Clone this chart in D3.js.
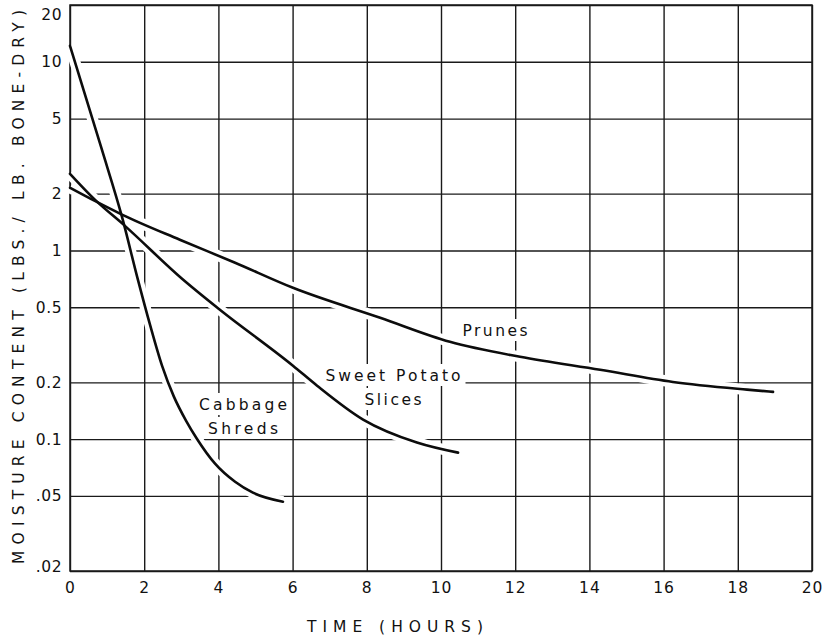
<!DOCTYPE html>
<html>
<head>
<meta charset="utf-8">
<script src="https://cdn.jsdelivr.net/npm/d3@7"></script>
<style>
  html, body { margin: 0; padding: 0; background: #fff; }
  svg { display: block; }
  text { font-family: "DejaVu Sans", "Liberation Sans", sans-serif; fill: #111; }
</style>
</head>
<body>
<svg id="chart" width="833" height="637"></svg>
<script>
// Drying curves: moisture content vs. time
const hourTicks = [0, 2, 4, 6, 8, 10, 12, 14, 16, 18, 20];
const moistureTicks = [20, 10, 5, 2, 1, 0.5, 0.2, 0.1, 0.05, 0.02];
const moistureTickLabels = ["20", "10", "5", "2", "1", "0.5", "0.2", "0.1", ".05", ".02"];

const cabbageHours    = [0, 0.86, 1.40, 1.83, 2.156, 2.48, 2.80, 3.13, 3.42, 3.91, 4.45, 4.93, 5.74];
const cabbageMoisture = [12.15, 3.42, 1.51, 0.70, 0.404, 0.245, 0.168, 0.125, 0.1005, 0.0741, 0.0594, 0.052, 0.0466];

const potatoHours    = [0, 0.67, 1.48, 3.02, 4.04, 6.01, 6.66, 7.90, 9.35, 10.46];
const potatoMoisture = [2.55, 1.86, 1.35, 0.708, 0.485, 0.245, 0.192, 0.127, 0.096, 0.0848];

const pruneHours    = [0, 0.67, 1.40, 2.96, 4.45, 6.01, 8.36, 10.24, 12.13, 14.29, 16.25, 18.25, 18.95];
const pruneMoisture = [2.15, 1.83, 1.55, 1.14, 0.861, 0.634, 0.440, 0.328, 0.273, 0.233, 0.201, 0.183, 0.178];

const seriesNames = ["Cabbage Shreds", "Sweet Potato Slices", "Prunes"];

const svg = d3.select("#chart");
const plotLeft = 70, plotRight = 812, plotTop = 5, plotBottom = 571;
const plotW = plotRight - plotLeft, plotH = plotBottom - plotTop;

const x = d3.scaleLinear().domain([0, 20]).range([plotLeft, plotRight]);
const y = d3.scaleLog().domain([0.02, 20]).range([plotBottom, plotTop]);

const ink = "#1a1a1a";

// Grid via axes
const gx = svg.append("g")
  .attr("transform", `translate(0,${plotBottom})`)
  .call(d3.axisBottom(x).tickValues(hourTicks).tickSize(-plotH).tickPadding(11)
        .tickFormat(d3.format("d")));
gx.select(".domain").remove();
gx.selectAll(".tick line").attr("stroke", ink).attr("stroke-width", 1.4);
gx.selectAll(".tick text").attr("font-size", 15.5).attr("letter-spacing", 1)
  .attr("font-family", "DejaVu Sans").attr("fill", "#111");

const gy = svg.append("g")
  .attr("transform", `translate(${plotLeft},0)`)
  .call(d3.axisLeft(y).tickValues(moistureTicks).tickSize(-plotW).tickPadding(8)
        .tickFormat((d, i) => moistureTickLabels[i]));
gy.select(".domain").remove();
gy.selectAll(".tick line").attr("stroke", ink).attr("stroke-width", 1.4);
gy.selectAll(".tick text").attr("font-size", 15.5).attr("letter-spacing", 0.5)
  .attr("font-family", "DejaVu Sans").attr("fill", "#111")
  .attr("y", d => {
    const py = y(d);
    return Math.min(Math.max(py, plotTop + 10), plotBottom - 4) - py;
  });

// Frame
svg.append("rect")
  .attr("x", plotLeft).attr("y", plotTop).attr("width", plotW).attr("height", plotH)
  .attr("fill", "none").attr("stroke", ink).attr("stroke-width", 1.5);

// Curve labels, each with a white clearing behind it
const labelSpecs = [
  { lines: ["Prunes"], cx: 495, base: 336, lens: [65] },
  { lines: ["Sweet Potato", "Slices"], cx: 393, base: 381, lens: [135, 57] },
  { lines: ["Cabbage", "Shreds"], cx: 243, base: 410, lens: [88, 70] }
];
const clearLayer = svg.append("g");
const curveLayer = svg.append("g");
const textLayer = svg.append("g");

labelSpecs.forEach(spec => {
  spec.lines.forEach((ln, i) => {
    textLayer.append("text")
      .attr("x", spec.cx).attr("y", spec.base + i * 24)
      .attr("text-anchor", "middle")
      .attr("font-size", 15.5)
      .attr("textLength", spec.lens[i]).attr("lengthAdjust", "spacing")
      .text(ln);
  });
});
textLayer.selectAll("text").each(function () {
  const b = this.getBBox();
  clearLayer.append("rect")
    .attr("x", b.x - 5).attr("y", b.y - 3)
    .attr("width", b.width + 10).attr("height", b.height + 4)
    .attr("fill", "#fff");
});

// Curves
const line = d3.line()
  .x(d => x(d[0])).y(d => y(d[1]))
  .curve(d3.curveMonotoneX);

const series = [
  d3.zip(cabbageHours, cabbageMoisture),
  d3.zip(potatoHours, potatoMoisture),
  d3.zip(pruneHours, pruneMoisture)
];

// White clearance where curves cut the grid
curveLayer.append("g").selectAll("path").data(series).join("path")
  .attr("d", line).attr("fill", "none")
  .attr("stroke", "#fff").attr("stroke-width", 11).attr("stroke-linecap", "butt");

curveLayer.append("g").selectAll("path").data(series).join("path")
  .attr("d", line).attr("fill", "none")
  .attr("class", (d, i) => seriesNames[i].replace(/ /g, "-"))
  .attr("stroke", "#0c0c0c").attr("stroke-width", 2.6)
  .attr("stroke-linecap", "round").attr("stroke-linejoin", "round");

// Axis titles
svg.append("text")
  .attr("x", 395).attr("y", 632)
  .attr("text-anchor", "middle").attr("font-size", 15.5)
  .attr("textLength", 176).attr("lengthAdjust", "spacing")
  .text("TIME  (HOURS)");

svg.append("text")
  .attr("transform", "translate(24,287) rotate(-90)")
  .attr("text-anchor", "middle").attr("font-size", 15.5)
  .attr("textLength", 554).attr("lengthAdjust", "spacing")
  .text("MOISTURE CONTENT (LBS./ LB. BONE-DRY)");
</script>
</body>
</html>
